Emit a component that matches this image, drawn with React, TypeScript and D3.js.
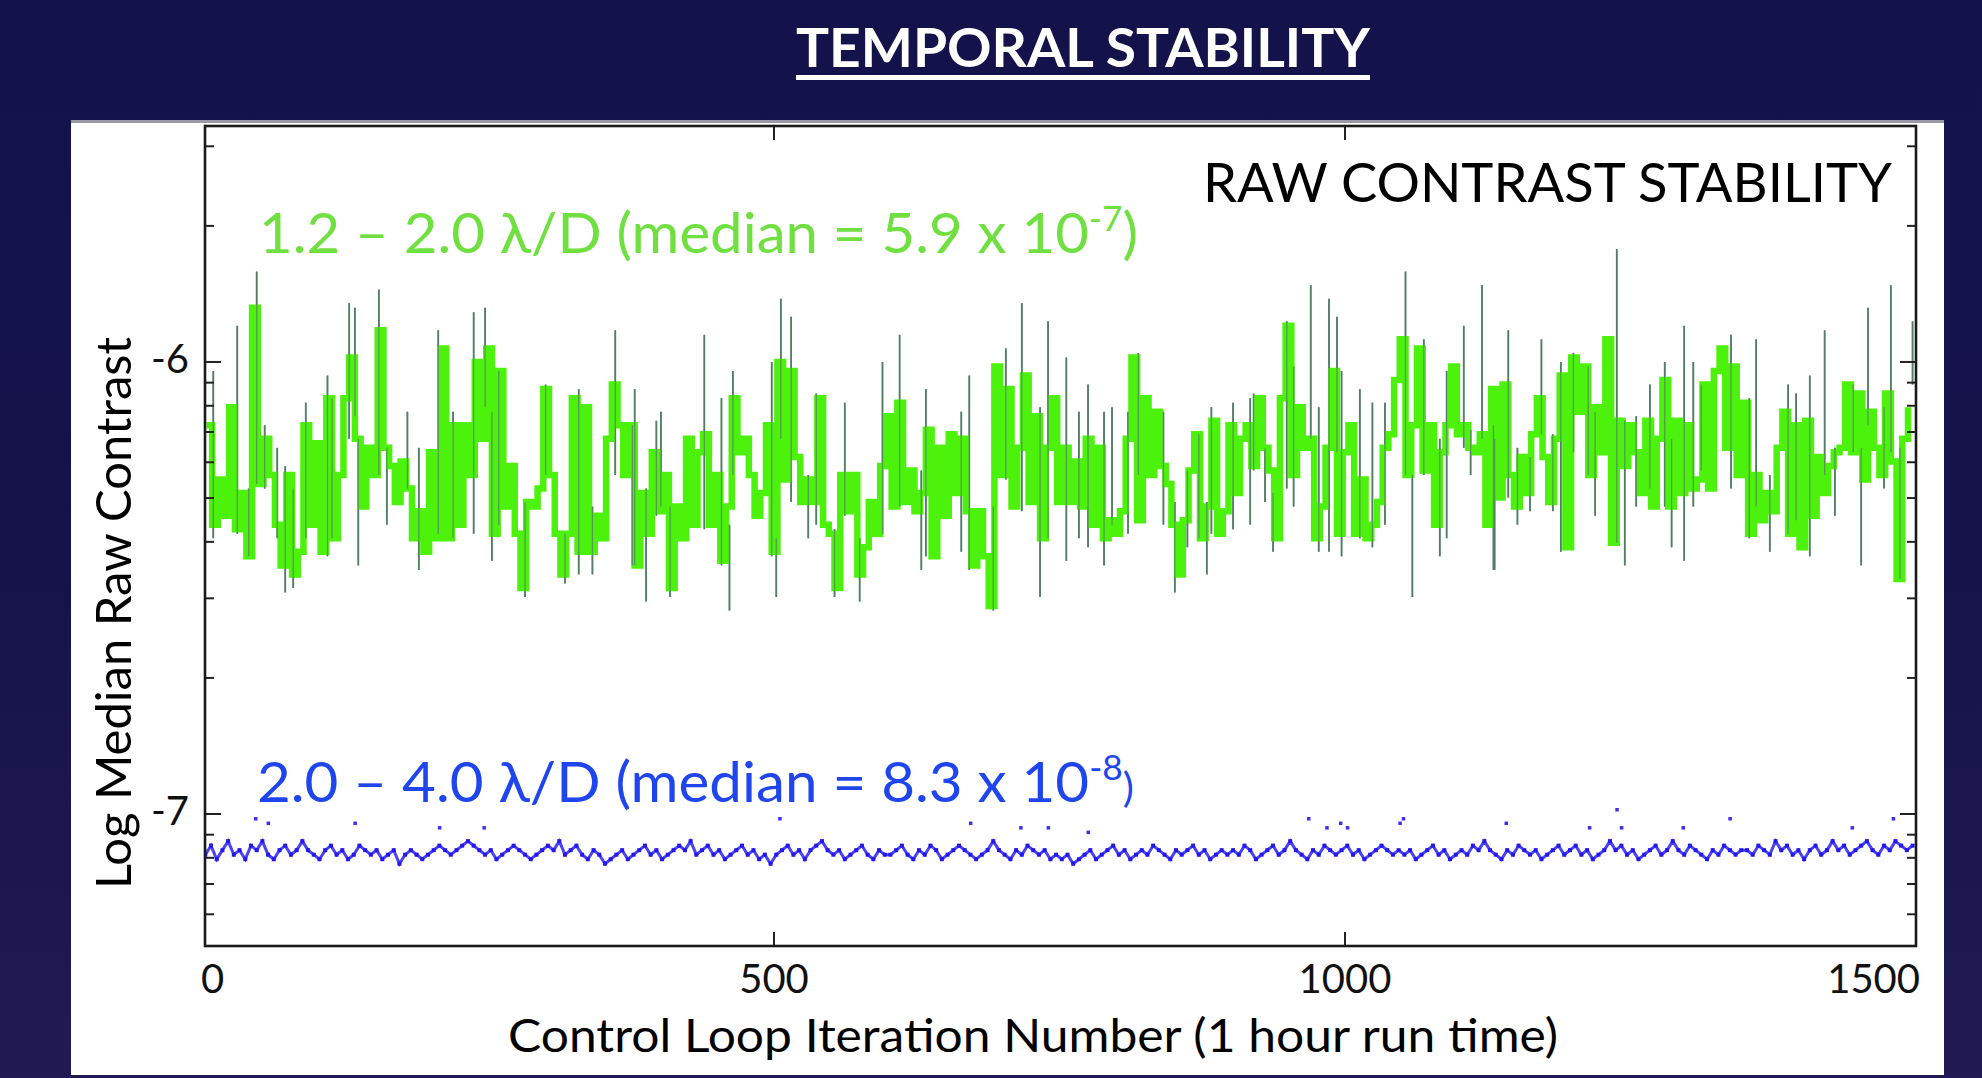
import React from 'react';
import * as d3 from 'd3';

// ---------- data (log10 of median raw contrast) ----------
const xTickValues = [0, 500, 1000, 1500];
const yMajorTicks = [-7, -6];
const decades = [-8, -7, -6, -5];
const minorFactors = [2, 3, 4, 5, 6, 7, 8, 9];
const greenStep = 5; // iterations per sample

// 1.2 – 2.0 λ/D, sampled every 5 iterations
const green: number[] = [
  -6.14,-6.36,-6.26,-6.34,-6.10,-6.37,-6.29,-6.43,-5.88,-6.27,
  -6.17,-6.25,-6.36,-6.45,-6.25,-6.47,-6.42,-6.14,-6.36,-6.18,
  -6.42,-6.08,-6.39,-6.25,-6.08,-5.99,-6.17,-6.32,-6.19,-6.25,
  -5.93,-6.19,-6.23,-6.31,-6.22,-6.28,-6.39,-6.33,-6.42,-6.20,
  -6.39,-5.97,-6.39,-6.14,-6.36,-6.14,-6.25,-6.00,-6.17,-5.97,
  -6.38,-6.02,-6.32,-6.23,-6.38,-6.50,-6.31,-6.32,-6.28,-6.06,
  -6.25,-6.38,-6.47,-6.38,-6.08,-6.42,-6.10,-6.42,-6.34,-6.39,
  -6.17,-6.05,-6.14,-6.25,-6.14,
  -6.45,-6.29,-6.38,-6.20,-6.33,-6.25,-6.50,-6.32,-6.39,-6.17,
  -6.36,-6.20,-6.16,-6.36,-6.25,-6.44,-6.32,-6.08,-6.20,-6.17,
  -6.25,-6.34,-6.29,-6.14,-6.42,-6.00,-6.26,-6.02,-6.21,-6.31,
  -6.26,-6.31,-6.08,-6.36,-6.38,-6.50,-6.25,-6.33,-6.25,-6.47,
  -6.41,-6.31,-6.38,-6.23,-6.12,-6.32,-6.09,-6.31,-6.24,-6.33,
  -6.29,-6.15,-6.43,-6.19,-6.34,-6.16,-6.29,-6.17,-6.33,-6.45,
  -6.33,-6.43,-6.54,-6.01,-6.25,-6.06,-6.32,-6.19,-6.03,-6.31,
  -6.12,-6.39,-6.19,-6.08,-6.31,
  -6.19,-6.31,-6.22,-6.32,-6.17,-6.36,-6.19,-6.39,-6.35,-6.38,
  -6.33,-6.17,-5.99,-6.35,-6.08,-6.25,-6.11,-6.23,-6.27,-6.36,
  -6.47,-6.35,-6.24,-6.16,-6.39,-6.32,-6.13,-6.38,-6.33,-6.14,
  -6.29,-6.17,-6.14,-6.23,-6.08,-6.19,-6.24,-6.39,-6.08,-5.92,
  -6.25,-6.10,-6.19,-6.17,-6.39,-6.32,-6.19,-6.02,-6.38,-6.20,
  -6.14,-6.38,-6.26,-6.39,-6.36,-6.31,-6.19,-6.16,-6.04,-5.95,
  -6.25,-6.14,-5.97,-6.24,-6.14,-6.36,-6.20,-6.14,-6.01,-6.16,
  -6.14,-6.19,-6.20,-6.16,-6.36,
  -6.06,-6.30,-6.05,-6.25,-6.32,-6.21,-6.29,-6.16,-6.08,-6.21,
  -6.31,-6.17,-6.03,-6.41,-5.99,-6.11,-6.01,-6.25,-6.10,-6.20,
  -5.95,-6.40,-6.13,-6.23,-6.14,-6.20,-6.29,-6.13,-6.32,-6.17,
  -6.04,-6.32,-6.13,-6.29,-6.14,-6.28,-6.26,-6.05,-6.28,-6.02,
  -5.97,-6.19,-6.01,-6.25,-6.09,-6.38,-6.25,-6.35,-6.29,-6.33,
  -6.19,-6.11,-6.38,-6.14,-6.41,-6.13,-6.34,-6.21,-6.29,-6.23,
  -6.20,-6.19,-6.05,-6.20,-6.07,-6.26,-6.11,-6.19,-6.25,-6.07,
  -6.22,-6.48,-6.17,-6.10,
];

// thin excursions of the 1.2 – 2.0 λ/D trace: [iteration, top, bottom]
const greenSpikes: [number, number, number][] = [
  [9,-6.02,-6.39],[30,-5.92,-6.38],[40,-6.28,-6.43],[47,-5.80,-6.27],[54,-6.14,-6.28],
  [65,-6.19,-6.39],[72,-6.23,-6.51],[79,-6.28,-6.50],[90,-6.09,-6.39],[109,-6.03,-6.43],
  [113,-6.08,-6.39],[128,-5.87,-6.17],[133,-5.88,-6.12],[136,-6.17,-6.45],[154,-5.84,-6.25],
  [161,-6.19,-6.36],[179,-6.11,-6.28],[189,-6.19,-6.46],[206,-5.93,-6.38],[219,-6.11,-6.39],
  [237,-5.89,-6.38],[247,-5.88,-6.10],[253,-6.11,-6.44],[259,-6.02,-6.36],[282,-6.31,-6.52],
  [300,-6.05,-6.25],[317,-6.38,-6.49],[329,-6.06,-6.47],[341,-6.32,-6.47],[361,-5.93,-6.25],
  [376,-6.14,-6.45],
  [378,-6.06,-6.45],[388,-6.28,-6.53],[397,-6.13,-6.34],[401,-6.11,-6.32],[409,-6.32,-6.52],
  [439,-5.94,-6.37],[454,-6.08,-6.45],[461,-6.36,-6.55],[464,-6.02,-6.25],[498,-6.00,-6.43],
  [502,-6.39,-6.52],[506,-5.86,-6.17],[515,-5.90,-6.31],[530,-6.25,-6.39],[537,-6.07,-6.36],
  [553,-6.37,-6.52],[562,-6.09,-6.34],[575,-6.39,-6.53],[595,-6.00,-6.38],[610,-5.94,-6.32],
  [629,-6.24,-6.46],[633,-6.06,-6.43],[664,-6.11,-6.42],[671,-6.03,-6.46],[692,-6.32,-6.55],
  [703,-5.97,-6.26],[717,-5.87,-6.33],[733,-6.10,-6.52],[740,-5.91,-6.39],
  [756,-5.99,-6.44],[767,-6.11,-6.39],[775,-6.05,-6.41],[789,-6.11,-6.45],[796,-6.10,-6.36],
  [810,-6.11,-6.38],[819,-5.98,-6.25],[841,-6.11,-6.36],[851,-6.31,-6.51],[862,-6.24,-6.41],
  [872,-6.16,-6.39],[879,-6.31,-6.47],[883,-6.10,-6.38],[902,-6.09,-6.37],[917,-6.08,-6.36],
  [920,-6.07,-6.24],[930,-6.19,-6.31],[937,-6.29,-6.42],[949,-5.91,-6.28],[955,-6.01,-6.32],
  [970,-5.83,-6.17],[977,-6.10,-6.42],[986,-5.86,-6.42],[993,-5.90,-6.20],[997,-6.02,-6.43],
  [1013,-6.06,-6.39],[1024,-6.09,-6.41],[1035,-6.09,-6.36],[1053,-5.80,-6.25],[1059,-6.25,-6.52],
  [1069,-5.95,-6.25],[1083,-6.17,-6.43],[1089,-6.02,-6.39],[1104,-5.92,-6.19],[1110,-6.15,-6.25],
  [1120,-5.83,-6.17],[1130,-6.14,-6.46],
  [1131,-6.17,-6.46],[1143,-5.93,-6.30],[1151,-6.19,-6.36],[1162,-6.21,-6.33],[1172,-5.95,-6.16],
  [1182,-6.16,-6.33],[1189,-6.00,-6.42],[1200,-5.98,-6.20],[1213,-6.01,-6.25],[1219,-6.11,-6.34],
  [1238,-5.75,-6.40],[1245,-6.13,-6.45],[1255,-6.12,-6.32],[1267,-6.05,-6.28],[1280,-6.00,-6.32],
  [1286,-6.17,-6.41],[1297,-5.92,-6.44],[1305,-6.00,-6.32],[1312,-6.05,-6.24],[1338,-5.94,-6.28],
  [1354,-6.08,-6.39],[1360,-5.95,-6.32],[1372,-6.25,-6.42],[1388,-6.05,-6.38],[1395,-6.07,-6.35],
  [1407,-6.03,-6.43],[1420,-5.93,-6.25],[1429,-6.19,-6.34],[1445,-6.05,-6.20],[1452,-6.19,-6.45],
  [1458,-5.88,-6.14],[1472,-6.10,-6.28],[1478,-5.83,-6.20],[1486,-6.19,-6.48],[1497,-5.91,-6.05],
];

// 2.0 – 4.0 λ/D, sampled every 5 iterations
const blue: number[] = [
  -7.09,-7.07,-7.10,-7.08,-7.06,-7.09,-7.08,-7.10,-7.07,-7.08,-7.06,-7.09,-7.10,-7.08,-7.07,-7.09,-7.08,-7.06,-7.08,-7.09,-7.10,-7.08,-7.07,-7.09,-7.08,-7.10,-7.09,-7.07,-7.08,-7.09,
  -7.08,-7.10,-7.09,-7.08,-7.11,-7.09,-7.08,-7.09,-7.10,-7.09,-7.08,-7.07,-7.08,-7.09,-7.08,-7.07,-7.06,-7.07,-7.08,-7.09,-7.08,-7.10,-7.09,-7.08,-7.07,-7.08,-7.09,-7.10,-7.09,-7.08,
  -7.07,-7.08,-7.06,-7.09,-7.08,-7.07,-7.09,-7.10,-7.08,-7.09,-7.11,-7.10,-7.09,-7.08,-7.10,-7.09,-7.08,-7.07,-7.09,-7.08,-7.10,-7.09,-7.08,-7.07,-7.08,-7.06,-7.09,-7.08,-7.07,-7.09,
  -7.08,-7.10,-7.09,-7.08,-7.07,-7.09,-7.08,-7.10,-7.09,-7.11,-7.09,-7.08,-7.07,-7.09,-7.08,-7.10,-7.08,-7.07,-7.06,-7.08,-7.09,-7.08,-7.10,-7.09,-7.08,-7.07,-7.09,-7.10,-7.08,-7.09,
  -7.09,-7.08,-7.07,-7.09,-7.10,-7.08,-7.09,-7.07,-7.08,-7.10,-7.09,-7.08,-7.07,-7.08,-7.09,-7.10,-7.09,-7.08,-7.06,-7.08,-7.09,-7.10,-7.08,-7.09,-7.07,-7.08,-7.09,-7.08,-7.10,-7.09,
  -7.10,-7.09,-7.11,-7.10,-7.09,-7.08,-7.10,-7.09,-7.08,-7.07,-7.09,-7.08,-7.10,-7.09,-7.08,-7.09,-7.07,-7.08,-7.09,-7.10,-7.08,-7.09,-7.08,-7.07,-7.09,-7.08,-7.10,-7.09,-7.08,-7.09,
  -7.08,-7.09,-7.07,-7.08,-7.10,-7.09,-7.08,-7.07,-7.09,-7.08,-7.06,-7.08,-7.09,-7.10,-7.08,-7.09,-7.07,-7.08,-7.09,-7.08,-7.07,-7.09,-7.08,-7.10,-7.09,-7.08,-7.07,-7.08,-7.09,-7.08,
  -7.09,-7.08,-7.10,-7.09,-7.08,-7.07,-7.09,-7.08,-7.10,-7.09,-7.08,-7.09,-7.07,-7.08,-7.06,-7.08,-7.09,-7.10,-7.08,-7.09,-7.07,-7.08,-7.09,-7.08,-7.10,-7.09,-7.08,-7.07,-7.09,-7.08,
  -7.07,-7.09,-7.08,-7.10,-7.09,-7.08,-7.06,-7.08,-7.07,-7.09,-7.08,-7.10,-7.09,-7.08,-7.07,-7.09,-7.08,-7.06,-7.08,-7.09,-7.07,-7.08,-7.09,-7.10,-7.08,-7.09,-7.07,-7.08,-7.09,-7.08,
  -7.08,-7.09,-7.07,-7.08,-7.09,-7.06,-7.08,-7.07,-7.09,-7.08,-7.10,-7.08,-7.07,-7.09,-7.08,-7.06,-7.08,-7.07,-7.09,-7.08,-7.07,-7.06,-7.08,-7.09,-7.07,-7.08,-7.06,-7.07,-7.08,-7.07,
];

// isolated high points of the 2.0 – 4.0 λ/D series: [iteration, value]
const blueOutliers: [number, number][] = [
  [46,-7.01],[57,-7.02],[133,-7.02],[207,-7.03],[246,-7.03],[505,-7.01],[672,-7.02],
  [716,-7.03],[740,-7.03],[775,-7.04],[968,-7.01],[984,-7.03],[996,-7.02],[1002,-7.03],
  [1048,-7.02],[1051,-7.01],[1141,-7.02],[1214,-7.03],[1238,-6.99],[1242,-7.03],
  [1296,-7.03],[1337,-7.01],[1444,-7.03],[1480,-7.01],
];

const W = 1982;
const H = 1078;
const FONT = "Lato, 'Open Sans', 'DejaVu Sans', sans-serif";

export default function App() {
  const x = d3.scaleLinear().domain([0, 1500]).range([203, 1916]);
  const y = d3.scaleLinear().domain([-7.292, -5.478]).range([946, 126]);
  const [px0, px1] = [205, 1916];
  const [py0, py1] = [126, 946];

  const greenPath = d3
    .line<number>()
    .x((_, i) => x(i * greenStep + 3))
    .y((d) => y(d))
    .curve(d3.curveStepAfter)(green) as string;

  const bluePath = d3
    .line<number>()
    .x((_, i) => x(i * greenStep + 2))
    .y((d) => y(d))(blue) as string;

  const [dMin, dMax] = y.domain();
  const minorTicks: number[] = [];
  decades.forEach((n) =>
    minorFactors.forEach((k) => {
      const v = n + Math.log10(k);
      if (v > dMin && v < dMax) minorTicks.push(v);
    })
  );

  return (
    <svg
      width={W}
      height={H}
      style={{ position: 'fixed', left: 0, top: 0, display: 'block' }}
      fontFamily={FONT}
    >
      <defs>
        <linearGradient id="bg" x1="0" y1="0" x2="0" y2="1">
          <stop offset="0" stopColor="#13124a" />
          <stop offset="0.55" stopColor="#16134b" />
          <stop offset="1" stopColor="#221a52" />
        </linearGradient>
        <clipPath id="plot">
          <rect x={px0} y={py0} width={px1 - px0} height={py1 - py0} />
        </clipPath>
      </defs>
      <rect x={0} y={0} width={W} height={H} fill="url(#bg)" />

      {/* Title */}
      <text
        x={1083}
        y={67}
        textAnchor="middle"
        fill="#ffffff"
        fontWeight={700}
        fontSize={54}
        textLength={574}
        lengthAdjust="spacingAndGlyphs"
      >
        TEMPORAL STABILITY
      </text>
      <rect x={796} y={75} width={574} height={5} fill="#ffffff" />

      {/* white panel */}
      <rect x={71} y={121} width={1873} height={954} fill="#ffffff" />
      <rect x={71} y={120} width={1873} height={3} fill="#9a9aa6" />

      {/* data */}
      <g clipPath="url(#plot)">
        {greenSpikes.map(([it, top, bot], i) => (
          <line
            key={'s' + i}
            x1={x(it)}
            x2={x(it)}
            y1={y(top)}
            y2={y(bot)}
            stroke="#4f7e63"
            strokeWidth={1.8}
          />
        ))}
        <path d={greenPath} fill="none" stroke="#4df20c" strokeWidth={6.5} strokeLinejoin="miter" />
        {greenSpikes.map(([it, top, bot], i) => (
          <line
            key={'t' + i}
            x1={x(it)}
            x2={x(it)}
            y1={y(top)}
            y2={y(bot)}
            stroke="#557f66"
            strokeWidth={1.3}
            opacity={0.75}
          />
        ))}
        <path d={bluePath} fill="none" stroke="#2a22ee" strokeWidth={3} opacity={0.85} />
        {blue.map((v, i) => (
          <rect
            key={'b' + i}
            x={x(i * greenStep + 2) - 2}
            y={y(v) - 2}
            width={4}
            height={4}
            fill="#2418ee"
          />
        ))}
        {blueOutliers.map(([it, v], i) => (
          <rect key={'o' + i} x={x(it) - 1.5} y={y(v) - 1.5} width={3.5} height={3.5} fill="#3a30f0" />
        ))}
      </g>

      {/* ticks */}
      {minorTicks.map((v, i) => (
        <g key={'m' + i} stroke="#222" strokeWidth={2}>
          <line x1={px0} x2={px0 + 9} y1={y(v)} y2={y(v)} />
          <line x1={px1} x2={px1 - 9} y1={y(v)} y2={y(v)} />
        </g>
      ))}
      {yMajorTicks.map((v) => (
        <g key={'M' + v}>
          <line x1={px0} x2={px0 + 16} y1={y(v)} y2={y(v)} stroke="#222" strokeWidth={2} />
          <line x1={px1} x2={px1 - 16} y1={y(v)} y2={y(v)} stroke="#222" strokeWidth={2} />
          <text x={189} y={y(v) + 11} textAnchor="end" fontSize={40} fill="#111">
            {'-' + Math.abs(v)}
          </text>
        </g>
      ))}
      {xTickValues.map((t, i) => (
        <g key={'x' + t}>
          {i > 0 && i < xTickValues.length - 1 && (
            <>
              <line x1={x(t)} x2={x(t)} y1={py1} y2={py1 - 14} stroke="#222" strokeWidth={2} />
              <line x1={x(t)} x2={x(t)} y1={py0} y2={py0 + 14} stroke="#222" strokeWidth={2} />
            </>
          )}
          <text
            x={i === 0 ? x(t) - 2 : i === xTickValues.length - 1 ? x(t) + 4 : x(t)}
            y={993}
            textAnchor={i === 0 ? 'start' : i === xTickValues.length - 1 ? 'end' : 'middle'}
            fontSize={40}
            fill="#111"
          >
            {t}
          </text>
        </g>
      ))}

      {/* frame */}
      <rect x={px0} y={py0} width={px1 - px0} height={py1 - py0} fill="none" stroke="#1a1a1a" strokeWidth={2.6} />

      {/* labels inside plot */}
      <text
        x={1203}
        y={202}
        fontSize={54}
        fill="#000"
        textLength={689}
        lengthAdjust="spacingAndGlyphs"
      >
        RAW CONTRAST STABILITY
      </text>
      <text
        x={259}
        y={253}
        fontSize={56}
        fill="#6fe040"
        textLength={879}
        lengthAdjust="spacingAndGlyphs"
      >
        1.2 – 2.0 λ/D (median = 5.9 x 10
        <tspan dy={-22} fontSize={34}>-7</tspan>
        <tspan dy={22}>)</tspan>
      </text>
      <text
        x={257}
        y={802}
        fontSize={56}
        fill="#1f45ee"
        textLength={877}
        lengthAdjust="spacingAndGlyphs"
      >
        2.0 – 4.0 λ/D (median = 8.3 x 10
        <tspan dy={-22} fontSize={34}>-8</tspan>
        <tspan dy={22} fontSize={40}>)</tspan>
      </text>

      {/* axis titles */}
      <text
        x={1033}
        y={1052}
        textAnchor="middle"
        fontSize={46}
        fill="#000"
        textLength={1050}
        lengthAdjust="spacingAndGlyphs"
      >
        Control Loop Iteration Number (1 hour run time)
      </text>
      <text
        transform="translate(131,613) rotate(-90)"
        textAnchor="middle"
        fontSize={48}
        fill="#000"
        textLength={552}
        lengthAdjust="spacingAndGlyphs"
      >
        Log Median Raw Contrast
      </text>
    </svg>
  );
}
